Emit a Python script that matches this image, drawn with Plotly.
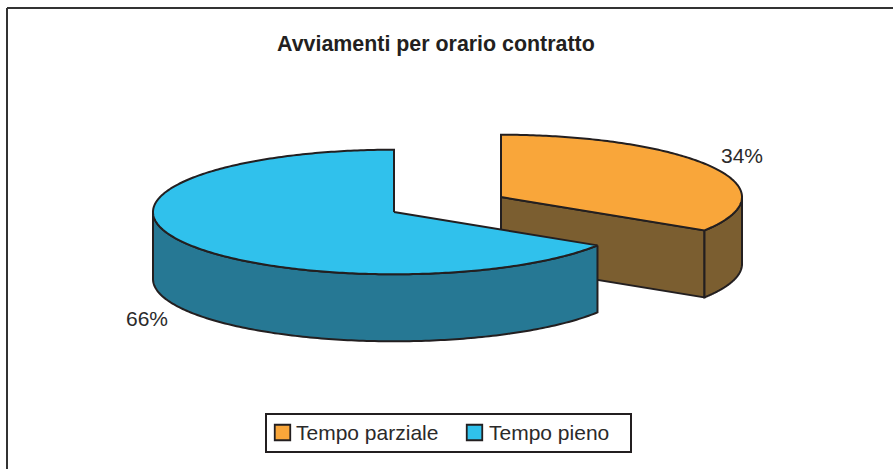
import numpy as np
import plotly.graph_objects as go

categories = ["Tempo parziale", "Tempo pieno"]
values = [34, 66]
labels = ["34%", "66%"]
title = "Avviamenti per orario contratto"

TOP = ["#f9a63a", "#30c1ec"]
SIDE = ["#7b5e30", "#267894"]
LINE = "#231f20"
TEXT = "#2b2a2a"
FONT = "Liberation Sans, Arial, sans-serif"

W, H = 893, 469
RX, RY, DEPTH = 241, 62.3, 67
CENTERS = [(501, 197), (394, 212)]
LEGEND_SWATCH_X = [282.5, 474.5]
LEGEND_TEXT_X = [296, 489]
LEGEND_Y = 432

fractions = np.array(values, dtype=float) / sum(values)
edges = np.concatenate([[0], np.cumsum(fractions)]) * 2 * np.pi


def rim(cx, cy, a0, a1, n=160):
    t = np.linspace(a0, a1, n)
    return cx + RX * np.sin(t), cy - RY * np.cos(t)


def poly(fig, xs, ys, fill):
    fig.add_trace(go.Scatter(
        x=xs, y=ys, mode="lines", fill="toself", fillcolor=fill,
        line=dict(color=LINE, width=2, simplify=False), showlegend=False, hoverinfo="skip"))


fig = go.Figure()

# part-time slice (exploded to the right)
cx, cy = CENTERS[0]
a0, a1 = edges[0], edges[1]
tx, ty = cx + RX * np.sin(a1), cy - RY * np.cos(a1)
poly(fig, [cx, tx, tx, cx, cx], [cy, ty, ty + DEPTH, cy + DEPTH, cy], SIDE[0])
wx, wy = rim(cx, cy, np.pi / 2, a1)
poly(fig, np.r_[wx, wx[::-1], wx[0]], np.r_[wy, wy[::-1] + DEPTH, wy[0]], SIDE[0])
rx_, ry_ = rim(cx, cy, a0, a1)
poly(fig, np.r_[cx, rx_, cx], np.r_[cy, ry_, cy], TOP[0])

# full-time slice
cx, cy = CENTERS[1]
a0, a1 = edges[1], edges[2]
wx, wy = rim(cx, cy, a0, 3 * np.pi / 2)
poly(fig, np.r_[wx, wx[::-1], wx[0]], np.r_[wy, wy[::-1] + DEPTH, wy[0]], SIDE[1])
rx_, ry_ = rim(cx, cy, a0, a1, 300)
poly(fig, np.r_[cx, rx_, cx], np.r_[cy, ry_, cy], TOP[1])

# chart frame (only top and left edges fall inside the crop)
fig.add_shape(type="line", x0=7, x1=7, y0=8, y1=H, layer="below", line=dict(color="#333333", width=2))
fig.add_shape(type="line", x0=7, x1=W, y0=8, y1=8, layer="below", line=dict(color="#333333", width=2))

# legend box, swatches and labels
fig.add_shape(type="rect", x0=266, x1=631, y0=414, y1=452, layer="below",
              line=dict(color=LINE, width=2), fillcolor="white")
fig.add_trace(go.Scatter(
    x=LEGEND_SWATCH_X, y=[432.5, 432.5], mode="markers", showlegend=False, hoverinfo="skip",
    marker=dict(symbol="square", size=15.5, color=TOP, line=dict(color=LINE, width=1.8))))
for name, x in zip(categories, LEGEND_TEXT_X):
    fig.add_annotation(x=x, y=LEGEND_Y, text=name, showarrow=False, xanchor="left", xshift=-2,
                       font=dict(family=FONT, size=21, color=TEXT))

fig.add_annotation(x=435.5, y=44, text=f"<b>{title}</b>", showarrow=False,
                   font=dict(family=FONT, size=21.4, color=LINE))
fig.add_annotation(x=742, y=155, text=labels[0], showarrow=False,
                   font=dict(family=FONT, size=21, color=TEXT))
fig.add_annotation(x=147, y=318, text=labels[1], showarrow=False,
                   font=dict(family=FONT, size=21, color=TEXT))

fig.update_layout(
    width=W, height=H, margin=dict(l=0, r=0, t=0, b=0),
    paper_bgcolor="white", plot_bgcolor="white", hovermode=False,
    xaxis=dict(range=[0, W], visible=False, fixedrange=True),
    yaxis=dict(range=[H, 0], visible=False, fixedrange=True),
    showlegend=False,
)

fig.write_html("out.html", post_script="document.body.style.margin='0';document.body.style.overflow='hidden';",
               config={"displayModeBar": False})
